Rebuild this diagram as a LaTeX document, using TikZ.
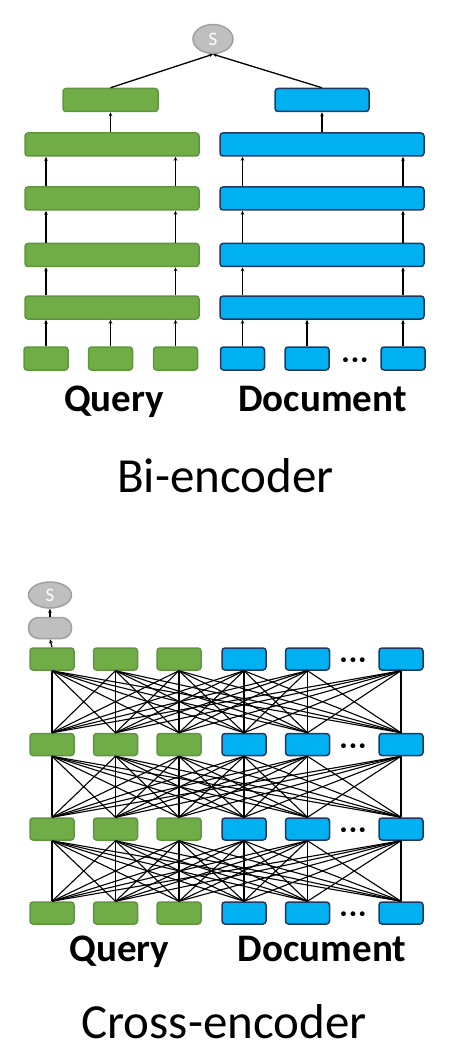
\documentclass[tikz,border=0pt]{standalone}
\usepackage{fontspec}
\setmainfont{Carlito}
\usetikzlibrary{
	arrows.meta,
	calc,
	positioning,
	shapes.geometric
}
\definecolor{qgreen}{HTML}{70AD47}
\definecolor{qgreenline}{HTML}{5F9540}
\definecolor{dblue}{HTML}{00B0F0}
\definecolor{dblueline}{HTML}{1F3864}
\definecolor{sgrey}{HTML}{BFBFBF}
\definecolor{sgreyline}{HTML}{A0A0A0}

\begin{document}
\begin{tikzpicture}[x=1pt, y=-1pt,
		qbox/.style={draw=qgreenline, fill=qgreen, line width=1.5pt, rounded corners=3pt, inner sep=0pt, minimum height=23pt},
		dbox/.style={draw=dblueline, fill=dblue, line width=1.5pt, rounded corners=3pt, inner sep=0pt, minimum height=23pt},
		score/.style={ellipse, draw=sgreyline, fill=sgrey, line width=1.5pt, text=white, inner sep=0pt, font=\fontsize{19}{19}\selectfont},
		arr/.style={-{Stealth[length=4pt,width=3.5pt]}, line width=1.3pt},
		link/.style={line width=1.1pt},
		dotsnode/.style={inner sep=0pt, yshift=-4pt, font=\bfseries\fontsize{26}{26}\selectfont},
		lbl/.style={anchor=base, inner sep=0pt, font=\bfseries\fontsize{39}{39}\selectfont},
		caption/.style={anchor=base, inner sep=0pt, font=\fontsize{49}{49}\selectfont}]
		\useasboundingbox (0,0) rectangle (448,1064);
		% bi-encoder
		\node[score, minimum width=40pt, minimum height=29pt] (s1) at (213,39) {S};
		\node[qbox, minimum width=95pt] (qtop) at (110.5,100) {};
		\node[dbox, minimum width=94pt] (dtop) at (322,100) {};
		\foreach \k/\y in {1/144.5, 2/198.5, 3/255, 4/307.5} {
			\node[qbox, minimum width=174pt] (qlay\k) at (112,\y) {};
			\node[dbox, minimum width=204pt] (dlay\k) at (322,\y) {};
		}
		\foreach \n/\x in {q1/46, q2/110.5, q3/175.5}
		\node[qbox, minimum width=44pt] (\n) at (\x,358.5) {};
		\foreach \n/\x in {d1/242.5, d2/307, d3/403}
		\node[dbox, minimum width=44pt] (\n) at (\x,358.5) {};
		\node[dotsnode] (bidots) at (355,358.5) {·\kern2.5pt·\kern2.5pt·};
		\foreach \n/\b in {q1/qlay, q2/qlay, q3/qlay, d1/dlay, d2/dlay, d3/dlay}
		\draw[arr] (\n.north) -- (\n.north |- \b4.south);
		\foreach \n/\b in {q1/qlay, q3/qlay, d1/dlay, d3/dlay}
		\foreach \k/\u in {4/3, 3/2, 2/1}
		\draw[arr] (\n.north |- \b\k.north) -- (\n.north |- \b\u.south);
		\draw[arr] (qtop.south |- qlay1.north) -- (qtop.south);
		\draw[arr] (dtop.south |- dlay1.north) -- (dtop.south);
		\draw[arr] (qtop.north) -- (s1.south);
		\draw[arr] (dtop.north) -- (s1.south);
		\node[lbl] (biq) at (114,411) {Query};
		\node[lbl] (bid) at (322.5,411) {Document};
		\node[caption] (bicap) at (225.5,492) {Bi-encoder};
		% cross-encoder
		\node[score, minimum width=43pt, minimum height=26pt] (s2) at (50,595) {S};
		\node[draw=sgreyline, fill=sgrey, line width=1.5pt, rounded corners=10pt, minimum width=43pt, minimum height=21pt, inner sep=0pt] (pool) at (50,628) {};
		\foreach \r/\y in {1/659, 2/744.5, 3/829, 4/913} {
			\foreach \i/\x/\st in {1/52/qbox, 2/115.5/qbox, 3/179/qbox, 4/244/dbox, 5/307.5/dbox, 6/401/dbox}
			\node[\st, minimum width=44pt, minimum height=22pt] (t\r-\i) at (\x,\y) {};
			\node[dotsnode] (dots\r) at (353,\y) {·\kern2.5pt·\kern2.5pt·};
		}
		\foreach \r/\n in {1/2, 2/3, 3/4}
		\foreach \i in {1,...,6}
		\foreach \j in {1,...,6}
		\draw[link] (t\r-\i.south) -- (t\n-\j.north);
		\draw[arr] (t1-1.north) -- (pool.south);
		\draw[arr] (pool.north) -- (s2.south);
		\node[lbl] (crq) at (119.5,961) {Query};
		\node[lbl] (crd) at (322,961) {Document};
		\node[caption] (crcap) at (224,1038) {Cross-encoder};
\end{tikzpicture}
\end{document}
